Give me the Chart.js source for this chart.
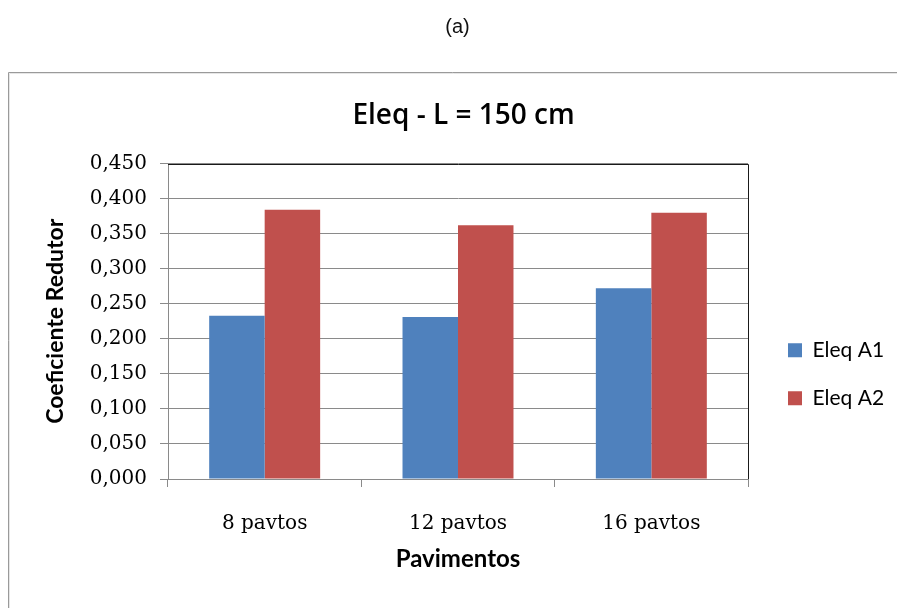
<!DOCTYPE html>
<html>
<head>
<meta charset="utf-8">
<script src="https://cdn.jsdelivr.net/npm/chart.js@4"></script>
<style>
html,body{margin:0;padding:0;background:#fff;}
#wrap{position:relative;width:897px;height:608px;overflow:hidden;}
#grafico{position:absolute;left:0;top:0;}
#letra{position:absolute;left:9px;top:15px;width:897px;text-align:center;font-family:"Liberation Sans",Arial,sans-serif;font-size:20px;color:#111;}
</style>
</head>
<body>
<div id="wrap">
  <canvas id="grafico" width="897" height="608"></canvas>
  <div id="letra">(a)</div>
</div>
<script>
// valores
var categorias = ['8 pavtos', '12 pavtos', '16 pavtos']
var eleqA1 = [0.233, 0.231, 0.272]
var eleqA2 = [0.384, 0.362, 0.380]
var nomes = ['Eleq A1', 'Eleq A2']
var cores = ['#4F81BD', '#C0504D']
var yMin = 0, yMax = 0.45, yPasso = 0.05

var fonteTexto = 'Lato, "Open Sans", sans-serif'
var fonteTitulo = '"Open Sans", Lato, sans-serif'
var fonteTicks = '"DejaVu Serif", "Liberation Serif", serif'
var cinza = '#8a8a8a'

// largura fixa da legenda e deslocamento dos itens
var larguraLegenda = 149
var desvioLegenda = {x: 13, y: 53}

var ajustes = {
    id: 'ajustes',
    beforeInit: function(chart){
        var lg = chart.legend
        if (!lg) return
        var fitOriginal = lg.fit
        lg.fit = function(){
            fitOriginal.call(this)
            this.width = larguraLegenda
        }
    },
    afterLayout: function(chart){
        var lg = chart.legend
        if (!lg) return
        lg.left += desvioLegenda.x
        lg.right += desvioLegenda.x
        lg.top += desvioLegenda.y
        lg.bottom += desvioLegenda.y
    },
    beforeDraw: function(chart){
        var ctx = chart.ctx
        ctx.save()
        ctx.strokeStyle = '#e6e6e6'
        ctx.lineWidth = 1
        ctx.beginPath()
        ctx.moveTo(9.5, chart.height)
        ctx.lineTo(9.5, 73.5)
        ctx.lineTo(chart.width, 73.5)
        ctx.stroke()
        ctx.strokeStyle = '#9a9a9a'
        ctx.beginPath()
        ctx.moveTo(8.5, chart.height)
        ctx.lineTo(8.5, 72.5)
        ctx.lineTo(chart.width, 72.5)
        ctx.stroke()
        ctx.restore()
    },
    afterDraw: function(chart){
        var a = chart.chartArea
        var ctx = chart.ctx
        ctx.save()
        ctx.strokeStyle = '#1a1a1a'
        ctx.lineWidth = 1
        ctx.beginPath()
        ctx.moveTo(Math.round(a.left), Math.round(a.top) + 0.5)
        ctx.lineTo(Math.round(a.right) + 0.5, Math.round(a.top) + 0.5)
        ctx.lineTo(Math.round(a.right) + 0.5, Math.round(a.bottom))
        ctx.stroke()
        ctx.restore()
    }
}

var can = document.getElementById('grafico')
var config = {
    type: 'bar',
    data: {
        labels: categorias,
        datasets: [
            {label: nomes[0], data: eleqA1, backgroundColor: cores[0]},
            {label: nomes[1], data: eleqA2, backgroundColor: cores[1]}
        ]
    },
    options: {
        responsive: false,
        animation: false,
        layout: {padding: {left: 30, right: 0, top: 0, bottom: 0}},
        datasets: {bar: {categoryPercentage: 0.574, barPercentage: 1, borderWidth: 0}},
        plugins: {
            title: {
                display: true,
                text: 'Eleq - L = 150 cm',
                color: '#000',
                font: {family: fonteTitulo, size: 28, weight: 600},
                padding: {top: 99, bottom: 31}
            },
            legend: {
                position: 'right',
                fullSize: false,
                align: 'center',
                labels: {
                    color: '#000',
                    font: {family: fonteTexto, size: 21},
                    boxWidth: 14,
                    boxHeight: 14,
                    padding: 27
                }
            },
            tooltip: {enabled: false}
        },
        scales: {
            x: {
                grid: {drawOnChartArea: false, tickLength: 8, color: cinza, offset: true},
                border: {color: cinza},
                ticks: {color: '#000', padding: 25, font: {family: fonteTicks, size: 20}},
                title: {
                    display: true,
                    text: 'Pavimentos',
                    color: '#000',
                    font: {family: fonteTexto, size: 24, weight: 'bold'},
                    padding: {top: 0, bottom: 34}
                },
                afterFit: function(s){ s.height = 129 }
            },
            y: {
                min: yMin,
                max: yMax,
                grid: {color: cinza, tickLength: 8},
                border: {color: cinza},
                ticks: {
                    stepSize: yPasso,
                    color: '#000',
                    padding: 13,
                    font: {family: fonteTicks, size: 20},
                    callback: function(v){ return v.toFixed(3).replace('.', ',') }
                },
                title: {
                    display: true,
                    text: 'Coeficiente Redutor',
                    color: '#000',
                    font: {family: fonteTexto, size: 23, weight: 'bold'},
                    padding: {top: 12, bottom: 0}
                },
                afterFit: function(s){ s.width = 138 }
            }
        }
    },
    plugins: [ajustes]
}
var grafico = new Chart(can, config)
</script>
</body>
</html>
